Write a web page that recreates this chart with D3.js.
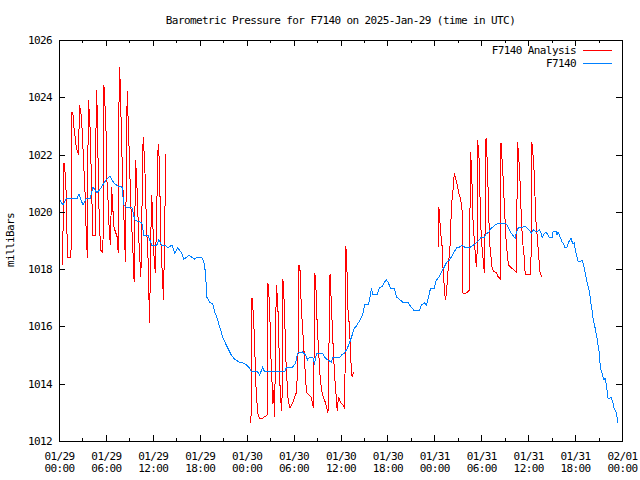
<!DOCTYPE html>
<html><head><meta charset="utf-8">
<script src="https://cdn.jsdelivr.net/npm/d3@7"></script>
<style>
html,body{margin:0;padding:0;background:#fff;}
svg text{font-family:"DejaVu Sans Mono","Liberation Mono",monospace;font-size:11px;letter-spacing:-0.6px;fill:#000;}
</style></head><body>
<svg id="chart" width="640" height="480"></svg>
<script>
const title = "Barometric Pressure for F7140 on 2025-Jan-29 (time in UTC)";
const yLabel = "milliBars";
const seriesNames = ["F7140 Analysis", "F7140"];
const seriesColors = ["#ff0000", "#0080ff"];
const startTime = Date.UTC(2025, 0, 29, 0, 0);
const endTime = Date.UTC(2025, 1, 1, 0, 0);
const yTicks = [1012, 1014, 1016, 1018, 1020, 1022, 1024, 1026];
const xMajorHours = [0, 6, 12, 18, 24, 30, 36, 42, 48, 54, 60, 66, 72];
const xMinorHours = [3, 9, 15, 21, 27, 33, 39, 45, 51, 57, 63, 69];
const xTickDates = ["01/29","01/29","01/29","01/29","01/30","01/30","01/30","01/30","01/31","01/31","01/31","01/31","02/01"];
const xTickTimes = ["00:00","06:00","12:00","18:00","00:00","06:00","12:00","18:00","00:00","06:00","12:00","18:00","00:00"];

// F7140 observations: hours since 01/29 00:00 UTC, pressure (mb)
const obsHours = [
0.00,0.51,0.89,2.30,2.55,3.06,3.45,3.96,4.34,4.85,
5.36,5.75,6.13,6.51,7.02,7.53,8.04,8.30,8.68,9.32,
9.70,10.60,10.85,11.36,11.87,12.51,12.77,13.15,13.53,13.92,
14.43,14.81,15.19,15.70,15.96,16.34,16.60,16.98,17.36,17.62,
18.26,18.51,18.64,18.77,18.89,19.28,19.66,19.92,20.17,20.55,
20.94,21.32,21.70,22.09,22.47,22.98,23.62,24.00,24.38,24.64,
25.40,25.66,26.04,26.30,28.85,29.11,29.87,30.26,30.51,31.15,
31.53,31.79,32.04,32.43,32.68,32.94,33.70,33.96,34.34,34.85,
34.98,35.87,36.13,36.51,36.89,37.15,37.41,37.79,38.04,38.43,
38.68,38.94,39.07,39.58,39.83,39.96,40.09,40.72,40.98,41.36,
41.62,41.87,42.13,42.38,42.90,43.15,43.66,44.04,44.68,44.94,
45.19,45.45,46.09,46.34,46.73,46.98,47.24,47.49,48.00,48.26,
48.64,48.90,49.28,49.53,49.92,50.17,50.43,50.68,50.94,51.19,
51.58,51.96,52.47,52.98,53.36,53.75,54.00,54.38,54.64,55.02,
55.28,55.53,55.79,56.30,57.07,57.32,57.58,57.83,58.09,58.34,
58.47,58.73,59.24,59.49,59.75,60.13,60.39,60.64,61.15,61.41,
61.66,61.79,62.04,62.30,62.68,63.07,63.19,63.58,63.70,63.83,
64.09,64.34,64.60,64.73,64.98,65.24,65.49,65.62,65.75,65.88,
66.00,66.13,66.26,66.39,66.64,66.90,67.15,67.28,67.53,67.79,
67.92,68.05,68.17,68.30,68.56,68.68,68.81,68.94,69.07,69.19,
69.32,69.58,69.70,69.83,69.96,70.09,70.21,70.47,70.60,70.85,
70.98,71.24,71.36,71.49];
const obsValues = [
1020.45,1020.24,1020.45,1020.45,1020.62,1020.24,1020.45,1020.45,1020.87,1020.66,
1020.83,1021.01,1021.15,1021.25,1021.01,1020.90,1020.90,1020.24,1020.14,1020.14,
1019.72,1019.61,1019.19,1019.19,1018.84,1018.84,1019.02,1018.84,1018.84,1018.74,
1018.84,1018.56,1018.74,1018.56,1018.35,1018.42,1018.49,1018.42,1018.35,1018.42,
1018.42,1018.25,1018.08,1017.73,1017.03,1016.85,1016.78,1016.50,1016.33,1015.98,
1015.63,1015.39,1015.18,1014.97,1014.86,1014.76,1014.72,1014.65,1014.55,1014.41,
1014.41,1014.30,1014.58,1014.41,1014.41,1014.58,1014.58,1014.72,1015.07,1015.11,
1015.00,1014.83,1014.93,1014.93,1014.72,1015.07,1015.07,1014.93,1014.83,1014.76,
1014.90,1014.90,1015.00,1015.07,1015.25,1015.42,1015.63,1015.95,1016.02,1016.19,
1016.33,1016.50,1016.75,1016.75,1017.10,1017.34,1017.13,1017.13,1017.34,1017.41,
1017.55,1017.62,1017.52,1017.34,1017.34,1017.03,1016.92,1016.82,1016.82,1016.71,
1016.64,1016.54,1016.54,1016.75,1016.82,1016.75,1016.99,1017.31,1017.34,1017.62,
1017.73,1017.90,1018.08,1018.22,1018.32,1018.42,1018.56,1018.67,1018.77,1018.77,
1018.84,1018.74,1018.74,1018.84,1018.91,1019.02,1019.12,1019.12,1019.23,1019.30,
1019.44,1019.47,1019.54,1019.61,1019.61,1019.54,1019.37,1019.26,1019.16,1019.09,
1019.26,1019.44,1019.44,1019.51,1019.47,1019.37,1019.26,1019.37,1019.30,1019.37,
1019.26,1019.09,1019.23,1019.30,1019.12,1019.12,1019.30,1019.30,1019.19,1019.30,
1019.12,1018.95,1018.84,1018.74,1018.77,1018.98,1019.09,1018.95,1018.88,1018.91,
1018.74,1018.56,1018.42,1018.25,1018.25,1018.32,1018.08,1017.87,1017.55,1017.27,
1017.03,1016.75,1016.57,1016.29,1015.95,1015.77,1015.60,1015.35,1015.11,1014.72,
1014.48,1014.23,1014.13,1014.20,1014.03,1013.78,1013.50,1013.50,1013.54,1013.33,
1013.15,1013.01,1012.84,1012.63];

// F7140 Analysis: three runs
const anaHours1 = [
0.45,0.64,0.77,0.89,1.02,1.15,1.53,1.66,1.79,1.91,
2.04,2.17,2.30,2.49,2.62,2.87,3.00,3.13,3.32,3.51,
3.64,3.74,3.89,4.02,4.17,4.34,4.66,4.76,4.89,5.02,
5.14,5.32,5.62,5.74,5.87,6.00,6.13,6.29,6.42,6.57,
6.73,7.02,7.44,7.57,7.70,7.83,8.00,8.13,8.30,8.49,
8.72,8.85,8.97,9.15,9.28,9.45,9.61,9.79,9.92,10.05,
10.17,10.28,10.47,10.76,10.89,11.02,11.20,11.36,11.58,11.83,
11.96,12.09,12.32,12.68,12.80,12.93,13.06,13.37,13.66];
const anaValues1 = [
1018.15,1021.71,1021.39,1020.87,1019.26,1018.39,1018.39,1023.49,1023.38,1022.96,
1022.65,1022.34,1022.16,1021.99,1023.73,1023.31,1022.61,1021.81,1020.76,1019.02,
1018.39,1023.91,1023.45,1022.61,1020.76,1019.19,1019.19,1024.26,1023.56,1021.36,
1019.82,1018.67,1018.56,1024.43,1023.80,1023.03,1021.11,1020.31,1019.37,1018.84,
1020.87,1019.47,1019.12,1018.56,1025.06,1024.53,1022.51,1021.22,1019.82,1018.25,
1024.22,1023.14,1022.16,1020.52,1019.61,1018.67,1017.55,1021.81,1021.22,1020.31,
1019.26,1018.67,1017.73,1022.61,1022.06,1021.22,1019.37,1018.67,1016.12,1020.59,
1020.07,1018.67,1017.87,1022.37,1021.92,1020.41,1018.67,1016.92,1022.02];
const anaHours2 = [
24.55,24.68,24.80,24.93,25.06,25.19,25.40,25.66,26.04,26.43,
26.62,26.72,26.85,26.97,27.10,27.23,27.36,27.45,27.57,27.79,
27.96,28.09,28.21,28.34,28.51,28.63,28.76,28.89,29.02,29.15,
29.30,29.55,29.87,30.34,30.55,30.68,30.86,30.98,31.19,31.40,
31.53,31.66,32.23,32.55,32.72,32.87,33.00,33.19,33.38,33.58,
33.83,34.09,34.40,34.66,34.81,35.02,35.23,35.45,35.58,35.74,
36.00,36.29,36.55,36.68,36.80,36.93,37.15,37.37,37.49,37.66];
const anaValues2 = [
1012.63,1016.99,1016.64,1015.98,1015.00,1013.89,1012.98,1012.77,1012.80,1012.87,
1012.91,1017.52,1017.10,1016.33,1014.93,1014.13,1013.29,1013.78,1012.84,1017.45,
1016.92,1015.88,1014.30,1013.43,1013.05,1017.66,1017.10,1016.05,1014.83,1014.13,
1013.43,1013.15,1013.33,1013.68,1014.58,1018.15,1017.90,1016.68,1015.77,1014.83,
1014.20,1013.68,1013.54,1013.15,1017.87,1017.27,1016.22,1015.18,1014.30,1013.78,
1013.50,1013.33,1012.98,1017.83,1016.92,1015.53,1014.37,1013.54,1013.05,1013.54,
1013.36,1013.26,1013.15,1018.81,1018.32,1016.68,1015.98,1014.58,1014.23,1014.41];
const anaHours3 = [
48.55,48.57,48.68,48.77,48.98,49.06,49.19,49.32,49.44,49.57,
49.70,49.83,50.01,50.13,50.26,50.43,50.55,50.77,50.98,51.10,
51.28,51.41,51.54,51.62,51.83,52.09,52.51,52.60,52.72,52.81,
52.89,53.02,53.20,53.33,53.45,53.53,53.71,53.84,53.97,54.10,
54.18,54.30,54.43,54.61,54.81,54.94,55.12,55.25,55.37,55.53,
55.92,56.17,56.43,56.52,56.64,56.81,56.94,57.15,57.36,57.49,
57.70,58.21,58.50,58.63,58.76,58.94,59.07,59.27,59.49,59.62,
60.35,60.47,60.64,60.77,60.98,61.19,61.41,61.53,61.75];
const anaValues3 = [
1018.77,1020.17,1019.89,1019.37,1018.84,1018.22,1017.73,1017.17,1016.92,1017.27,
1017.73,1018.25,1018.84,1019.72,1020.41,1020.87,1021.36,1021.11,1020.87,1020.69,
1020.52,1020.35,1020.07,1017.17,1017.13,1017.17,1017.27,1022.09,1021.74,1021.11,
1020.00,1019.37,1018.67,1018.22,1018.08,1022.51,1021.92,1020.52,1019.37,1018.77,
1018.56,1018.08,1017.87,1022.58,1021.53,1019.96,1018.77,1018.42,1018.08,1017.94,
1017.87,1017.73,1017.66,1022.41,1021.92,1021.11,1020.31,1019.12,1018.42,1018.15,
1018.08,1017.97,1017.90,1022.44,1022.06,1021.22,1020.17,1019.02,1018.42,1017.83,
1017.83,1022.44,1021.92,1021.36,1019.72,1019.02,1018.22,1017.87,1017.73];

const HOUR = 3600 * 1000;
const toDate = h => new Date(startTime + h * HOUR);
const zip = (hs, vs) => hs.map((h, i) => ({ t: toDate(h), v: vs[i] }));

const plotLeft = 59, plotRight = 622, plotTop = 40, plotBottom = 441;

const svg = d3.select("#chart");
const x = d3.scaleUtc().domain([new Date(startTime), new Date(endTime)]).range([plotLeft, plotRight]);
const y = d3.scaleLinear().domain([1012, 1026]).range([plotBottom, plotTop]);

// Title
svg.append("text").attr("x", (plotLeft + plotRight) / 2).attr("y", 24)
  .attr("text-anchor", "middle").text(title);

// Y label
svg.append("text").attr("transform", "translate(14,240) rotate(-90)")
  .attr("text-anchor", "middle").text(yLabel);

// Data lines
const line = d3.line().x(d => x(d.t)).y(d => y(d.v));
const g = svg.append("g").attr("shape-rendering", "crispEdges");
[[anaHours1, anaValues1], [anaHours2, anaValues2], [anaHours3, anaValues3]].forEach(([hs, vs]) => {
  g.append("path").datum(zip(hs, vs)).attr("d", line)
    .attr("fill", "none").attr("stroke", seriesColors[0]).attr("stroke-width", 1);
});
g.append("path").datum(zip(obsHours, obsValues)).attr("d", line)
  .attr("fill", "none").attr("stroke", seriesColors[1]).attr("stroke-width", 1);

// Axes (inward ticks, mirrored)
const majorDates = xMajorHours.map(toDate);
const minorDates = xMinorHours.map(toDate);
const ax = svg.append("g").attr("shape-rendering", "crispEdges");

const bottomAxis = ax.append("g").attr("transform", `translate(0,${plotBottom})`)
  .call(d3.axisBottom(x).tickValues(majorDates).tickSizeInner(-6).tickSizeOuter(0).tickPadding(11)
    .tickFormat((d, i) => xTickDates[i]));
bottomAxis.selectAll(".tick text").each(function(d, i) {
  const t = d3.select(this);
  t.text(null).attr("dy", null);
  t.append("tspan").attr("x", 0).attr("dy", "0.71em").text(xTickDates[i]);
  t.append("tspan").attr("x", 0).attr("dy", "12").text(xTickTimes[i]);
});
ax.append("g").attr("transform", `translate(0,${plotBottom})`)
  .call(d3.axisBottom(x).tickValues(minorDates).tickSizeInner(-3).tickSizeOuter(0).tickFormat(""));
ax.append("g").attr("transform", `translate(0,${plotTop})`)
  .call(d3.axisTop(x).tickValues(majorDates).tickSizeInner(-6).tickSizeOuter(0).tickFormat(""));
ax.append("g").attr("transform", `translate(0,${plotTop})`)
  .call(d3.axisTop(x).tickValues(minorDates).tickSizeInner(-3).tickSizeOuter(0).tickFormat(""));
ax.append("g").attr("transform", `translate(${plotLeft},0)`)
  .call(d3.axisLeft(y).tickValues(yTicks).tickSizeInner(-6).tickSizeOuter(0).tickPadding(7).tickFormat(d3.format("d")));
ax.append("g").attr("transform", `translate(${plotRight},0)`)
  .call(d3.axisRight(y).tickValues(yTicks).tickSizeInner(-6).tickSizeOuter(0).tickFormat(""));
ax.selectAll(".domain").remove();
ax.selectAll("text").attr("font-family", null).attr("font-size", null);

// Frame
svg.append("rect").attr("x", plotLeft + 0.5).attr("y", plotTop + 0.5)
  .attr("width", plotRight - plotLeft).attr("height", plotBottom - plotTop)
  .attr("fill", "none").attr("stroke", "#000").attr("shape-rendering", "crispEdges");

// Legend
const legend = svg.append("g");
seriesNames.forEach((name, i) => {
  const ly = 50 + i * 13;
  legend.append("text").attr("x", 576).attr("y", ly + 4).attr("text-anchor", "end").text(name);
  legend.append("line").attr("x1", 583).attr("x2", 612).attr("y1", ly + 0.5).attr("y2", ly + 0.5)
    .attr("stroke", seriesColors[i]).attr("shape-rendering", "crispEdges");
});
</script>
</body></html>
